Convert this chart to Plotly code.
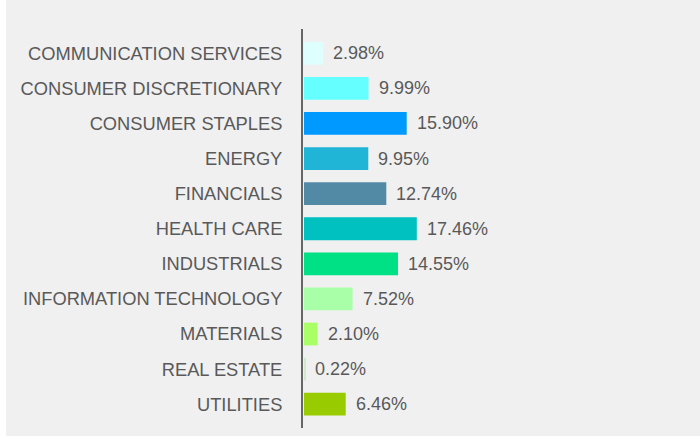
import plotly.graph_objects as go

categories = ["COMMUNICATION SERVICES", "CONSUMER DISCRETIONARY", "CONSUMER STAPLES",
              "ENERGY", "FINANCIALS", "HEALTH CARE", "INDUSTRIALS",
              "INFORMATION TECHNOLOGY", "MATERIALS", "REAL ESTATE", "UTILITIES"]
values = [2.98, 9.99, 15.90, 9.95, 12.74, 17.46, 14.55, 7.52, 2.10, 0.22, 6.46]
value_labels = ["2.98%", "9.99%", "15.90%", "9.95%", "12.74%", "17.46%",
                "14.55%", "7.52%", "2.10%", "0.22%", "6.46%"]
colors = ["#dfffff", "#66ffff", "#0099ff", "#20b5d6", "#528aa6", "#00c0c0",
          "#00e085", "#a8ffa8", "#aaff66", "#cfe8cf", "#99cc00"]

W, H = 700, 439
L, R, T, B = 303, 10, 29, 11
pw = W - L - R
ph = H - T - B
px_per = 6.46
x0 = -1 / px_per

fig = go.Figure()
fig.add_trace(go.Bar(
    y=categories, x=values, orientation="h",
    marker=dict(color=colors, line=dict(width=0)),
    width=0.65, hoverinfo="skip", showlegend=False,
))

for c, v, t in zip(categories, values, value_labels):
    fig.add_annotation(x=v, y=c, text=t, showarrow=False, xanchor="left",
                       yanchor="middle", xshift=8,
                       font=dict(family="Liberation Sans, Arial", size=18, color="#595959"))

def px2x(p):
    return (p - L) / pw

def py2y(p):
    return (H - B - p) / ph

# white strips around the grey panel
fig.add_shape(type="rect", xref="paper", yref="paper",
              x0=px2x(-5), x1=px2x(6), y0=py2y(-5), y1=py2y(445),
              fillcolor="white", line=dict(width=0), layer="above")
fig.add_shape(type="rect", xref="paper", yref="paper",
              x0=px2x(-5), x1=px2x(705), y0=py2y(436), y1=py2y(445),
              fillcolor="white", line=dict(width=0), layer="above")

fig.update_layout(
    width=W, height=H,
    margin=dict(l=L, r=R, t=T, b=B, pad=0),
    paper_bgcolor="#f0f0f0", plot_bgcolor="rgba(0,0,0,0)",
    font=dict(family="Liberation Sans, Arial", size=18, color="#595959"),
    bargap=0.35,
    xaxis=dict(range=[x0, x0 + pw / px_per], showgrid=False, zeroline=False,
               showticklabels=False, showline=False, fixedrange=True),
    yaxis=dict(type="category", categoryorder="array", categoryarray=categories,
               range=[10.678, -0.692], showgrid=False, zeroline=False,
               showline=True, linecolor="#666666", linewidth=2,
               ticks="", ticklabelstandoff=15,
               tickfont=dict(family="Liberation Sans, Arial", size=18.3, color="#595959"),
               fixedrange=True),
)

fig.write_html("out.html")
